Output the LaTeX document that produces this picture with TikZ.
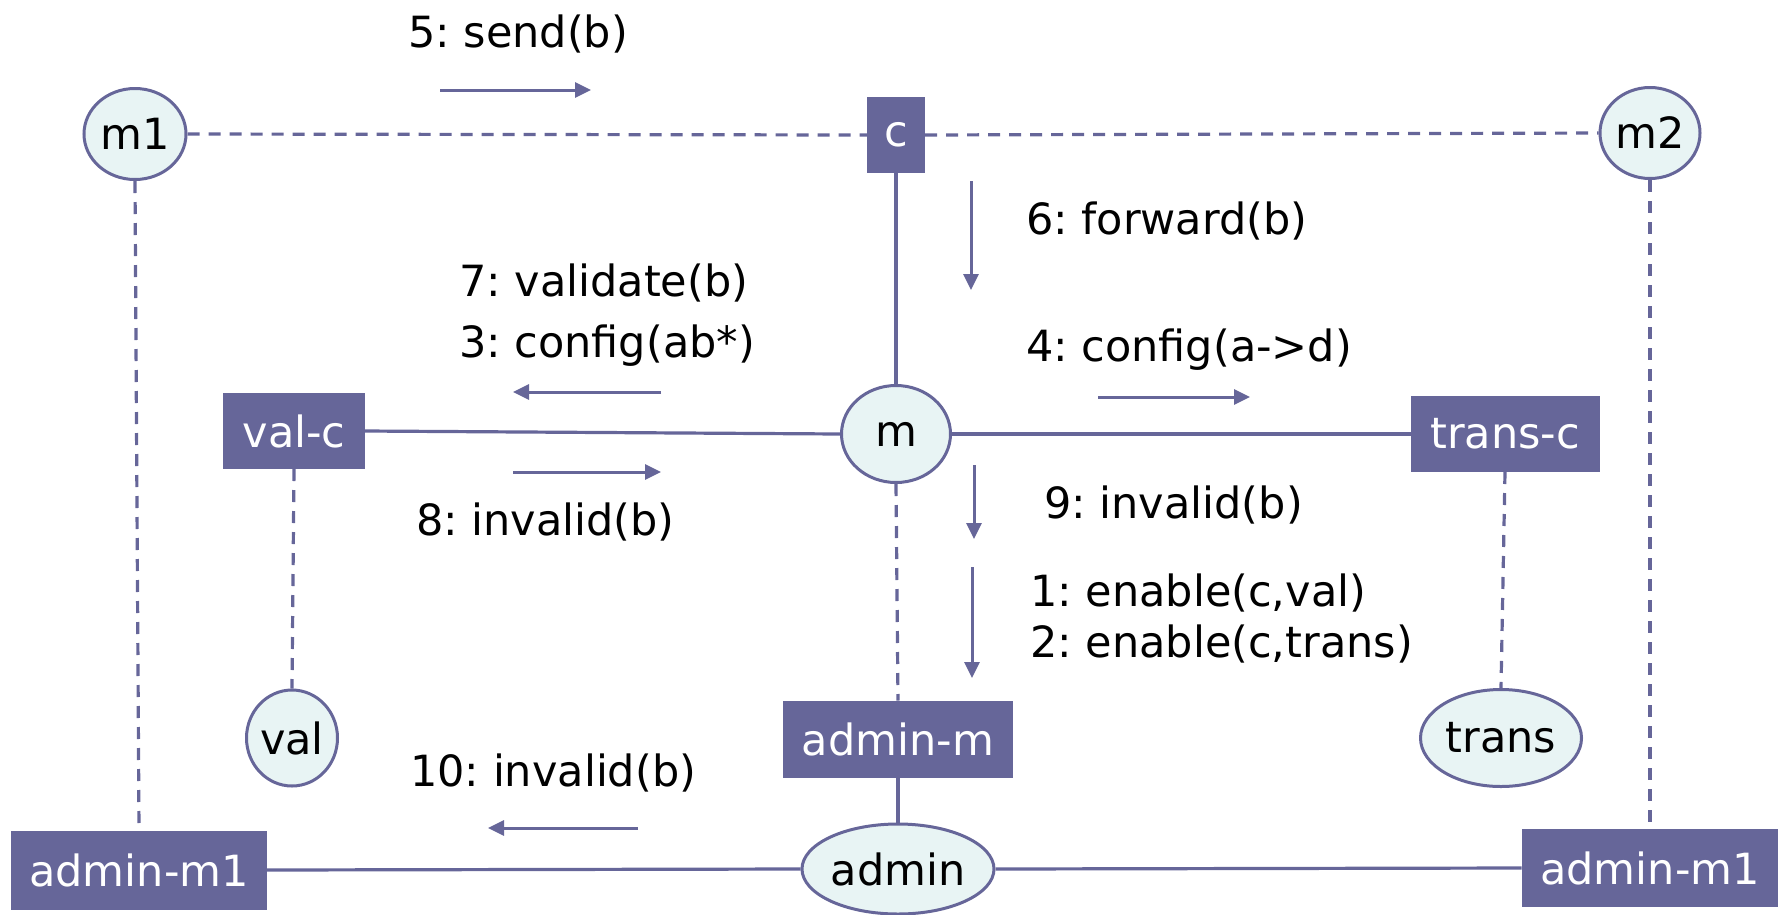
\documentclass[tikz,border=0pt]{standalone}
\usepackage{fontspec}
\setmainfont{DejaVu Sans}
\usetikzlibrary{shapes.geometric,arrows.meta}
\definecolor{ink}{RGB}{102,102,153}
\definecolor{pale}{RGB}{232,244,244}
\frenchspacing
\tikzset{
  every node/.style={font=\fontsize{43}{52}\selectfont, inner sep=0pt},
  comp/.style={rectangle, fill=ink, text=white, draw=ink, line width=1pt},
  inst/.style={ellipse, fill=pale, draw=ink, line width=3pt, text=black},
  link/.style={draw=ink, line width=3.2pt},
  weak/.style={draw=ink, line width=3.2pt, dash pattern=on 12pt off 9pt},
  msg/.style={draw=ink, line width=3pt, -{Triangle[length=16pt,width=15pt]}},
  lbl/.style={anchor=base west, text=black},
}
\begin{document}
\begin{tikzpicture}[x=1pt,y=-1pt]
\useasboundingbox (0,0) rectangle (1778,914);

% components and instances
\node[inst, minimum width=102pt, minimum height=91pt] (m1) at (135,134) {m1};
\node[comp, minimum width=57pt, minimum height=75pt] (c) at (896,135) {c};
\node[inst, minimum width=100pt, minimum height=91pt] (m2) at (1650,133) {m2};
\node[inst, minimum width=109pt, minimum height=97pt] (m) at (896,434) {m};
\node[comp, minimum width=141pt, minimum height=75pt] (valc) at (294,431) {val-c};
\node[comp, minimum width=188pt, minimum height=75pt] (transc) at (1505,434) {trans-c};
\node[inst, minimum width=91pt, minimum height=96pt] (val) at (292,738) {val};
\node[comp, minimum width=229pt, minimum height=76pt] (adminm) at (898,739) {admin-m};
\node[inst, minimum width=161pt, minimum height=97pt] (trans) at (1501,738) {trans};
\node[inst, minimum width=192pt, minimum height=90pt] (admin) at (898,869) {admin};
\node[comp, minimum width=255pt, minimum height=78pt] (am1L) at (139,870) {admin-m1};
\node[comp, minimum width=256pt, minimum height=77pt] (am1R) at (1650,868) {admin-m1};

% structural links
\draw[weak] (m1.east) -- (c.west);
\draw[weak] (c.east) -- (m2.west);
\draw[link] (c.south) -- (m.north);
\draw[link] (valc.east) -- (m.west);
\draw[link] (m.east) -- (transc.west);
\draw[weak] (m1.south) -- (am1L.north);
\draw[weak] (m2.south) -- (am1R.north);
\draw[weak] (valc.south) -- (val.north);
\draw[weak] (transc.south) -- (trans.north);
\draw[weak] (m.south) -- (adminm.north);
\draw[link] (adminm.south) -- (admin.north);
\draw[link] (am1L.east) -- (admin.west);
\draw[link] (admin.east) -- (am1R.west);

% message arrows
\coordinate (s5) at (440,90);   \coordinate (e5) at (591,90);
\coordinate (s6) at (971,181);  \coordinate (e6) at (971,290);
\coordinate (s3) at (661,392);  \coordinate (e3) at (513,392);
\coordinate (s4) at (1098,397); \coordinate (e4) at (1250,397);
\coordinate (s8) at (513,472);  \coordinate (e8) at (661,472);
\coordinate (s9) at (974,465);  \coordinate (e9) at (974,539);
\coordinate (s1) at (972,567);  \coordinate (e1) at (972,678);
\coordinate (s10) at (638,828); \coordinate (e10) at (488,828);
\draw[msg] (s5) -- (e5);
\draw[msg] (s6) -- (e6);
\draw[msg] (s3) -- (e3);
\draw[msg] (s4) -- (e4);
\draw[msg] (s8) -- (e8);
\draw[msg] (s9) -- (e9);
\draw[msg] (s1) -- (e1);
\draw[msg] (s10) -- (e10);

% message labels
\node[lbl] (t5) at (408,47) {5: send(b)};
\node[lbl] (t6) at (1026,234) {6: forward(b)};
\node[lbl] (t7) at (459,296) {7: validate(b)};
\node[lbl] (t3) at (459,357) {3: config(ab*)};
\node[lbl] (t4) at (1026,361) {4: config(a->d)};
\node[lbl] (t8) at (416,535) {8: invalid(b)};
\node[lbl] (t9) at (1044,518) {9: invalid(b)};
\node[lbl] (t1) at (1030,606) {1: enable(c,val)};
\node[lbl] (t2) at (1030,657) {2: enable(c,trans)};
\node[lbl] (t10) at (410,786) {10: invalid(b)};
\end{tikzpicture}
\end{document}
